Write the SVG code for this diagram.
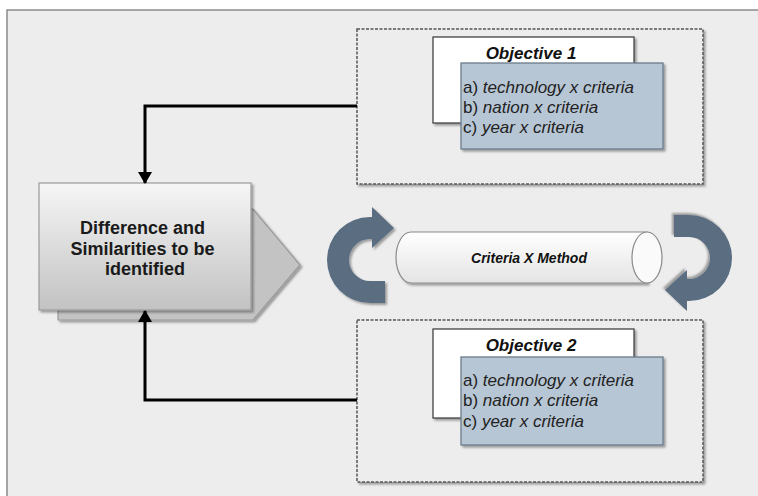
<svg xmlns="http://www.w3.org/2000/svg" width="758" height="496" viewBox="0 0 758 496">
<defs>
<linearGradient id="gFront" x1="0" y1="0" x2="0" y2="1">
<stop offset="0" stop-color="#f6f6f6"/><stop offset="1" stop-color="#c2c2c2"/>
</linearGradient>
<linearGradient id="gCyl" x1="0" y1="0" x2="0" y2="1">
<stop offset="0" stop-color="#ffffff"/><stop offset="1" stop-color="#e4e4e4"/>
</linearGradient>
<filter id="sh" x="-10%" y="-10%" width="130%" height="130%">
<feDropShadow dx="2" dy="2" stdDeviation="1.2" flood-color="#000" flood-opacity="0.35"/>
</filter>
<marker id="ah" viewBox="0 0 12 14" refX="11" refY="7" markerWidth="12" markerHeight="14" markerUnits="userSpaceOnUse" orient="auto">
<path d="M0,0 L12,7 L0,14 Z" fill="#000"/>
</marker>
<path id="curl" d="M385 281 L370 281 A21 21 0 0 1 370 239 L372 239 L372 248 L394 228 L372 207 L372 217 L370 217 A43 43 0 0 0 370 303 L385 303 Z"/>
</defs>
<style>
.dash{fill:#ededed;stroke:#555;stroke-width:1.5;stroke-dasharray:3 1.5}
.wbox{fill:#fff;stroke:#444;stroke-width:1.3}
.bbox{fill:#b7c6d4;stroke:#6b7b8b;stroke-width:1.3}
.title{font-family:"Liberation Sans",Arial,sans-serif;font-size:17px;font-weight:bold;font-style:italic;fill:#111}
.item{font-family:"Liberation Sans",Arial,sans-serif;font-size:17px;fill:#222}
.it{font-style:italic}
.conn{fill:none;stroke:#000;stroke-width:3}
.curl{fill:#5a6d81}
</style>
<rect x="0" y="0" width="758" height="496" fill="#fff"/>
<rect x="7" y="10" width="760" height="500" fill="#ededed" stroke="#8a8a8a" stroke-width="1.5"/>

<g id="objective1">
<rect class="dash" x="357" y="29" width="346" height="155" filter="url(#sh)"/>
<rect class="wbox" x="433" y="37" width="201" height="86" filter="url(#sh)"/>
<text class="title" x="531" y="59" text-anchor="middle">Objective 1</text>
<rect class="bbox" x="461" y="63" width="202" height="86" filter="url(#sh)"/>
<text class="item" x="463" y="93">a) <tspan class="it">technology x criteria</tspan></text>
<text class="item" x="463" y="113">b) <tspan class="it">nation x criteria</tspan></text>
<text class="item" x="463" y="133">c) <tspan class="it">year x criteria</tspan></text>
</g>

<g id="objective2">
<rect class="dash" x="357" y="320" width="346" height="162" filter="url(#sh)"/>
<rect class="wbox" x="433" y="329" width="201" height="89" filter="url(#sh)"/>
<text class="title" x="531" y="351" text-anchor="middle">Objective 2</text>
<rect class="bbox" x="461" y="357" width="202" height="88" filter="url(#sh)"/>
<text class="item" x="463" y="386">a) <tspan class="it">technology x criteria</tspan></text>
<text class="item" x="463" y="406">b) <tspan class="it">nation x criteria</tspan></text>
<text class="item" x="463" y="427">c) <tspan class="it">year x criteria</tspan></text>
</g>

<g id="differences">
<path d="M58 209 L253 209 L300 265 L253 320 L58 320 Z" fill="#c3c3c3" stroke="#999" stroke-width="1.2" filter="url(#sh)"/>
<rect x="39" y="183" width="212" height="127" fill="url(#gFront)" stroke="#9a9a9a" stroke-width="1.2" filter="url(#sh)"/>
<text font-family="'Liberation Sans',Arial,sans-serif" font-size="18" font-weight="bold" fill="#1a1a1a" text-anchor="middle">
<tspan x="145" y="234">Difference and</tspan>
<tspan x="145" y="254.5">Similarities to be</tspan>
<tspan x="145" y="275">identified</tspan>
</text>
</g>

<g id="criteria-method">
<path d="M647 232 L411 232 A15 25.5 0 0 0 411 283 L647 283 Z" fill="url(#gCyl)" stroke="#8a8a8a" stroke-width="1.2" filter="url(#sh)"/>
<ellipse cx="647" cy="257.5" rx="15" ry="25.5" fill="#fafafa" stroke="#8a8a8a" stroke-width="1.2"/>
<text x="529" y="263" text-anchor="middle" font-family="'Liberation Sans',Arial,sans-serif" font-size="14" font-weight="bold" font-style="italic" fill="#111">Criteria X Method</text>
</g>

<g id="cycle-arrows">
<use href="#curl" class="curl" filter="url(#sh)"/>
<use href="#curl" class="curl" transform="rotate(180 529.5 259)" filter="url(#sh)"/>
</g>

<g id="connectors">
<path class="conn" d="M357 106 L145 106 L145 183" marker-end="url(#ah)"/>
<path class="conn" d="M357 400 L145 400 L145 311" marker-end="url(#ah)"/>
</g>
</svg>
